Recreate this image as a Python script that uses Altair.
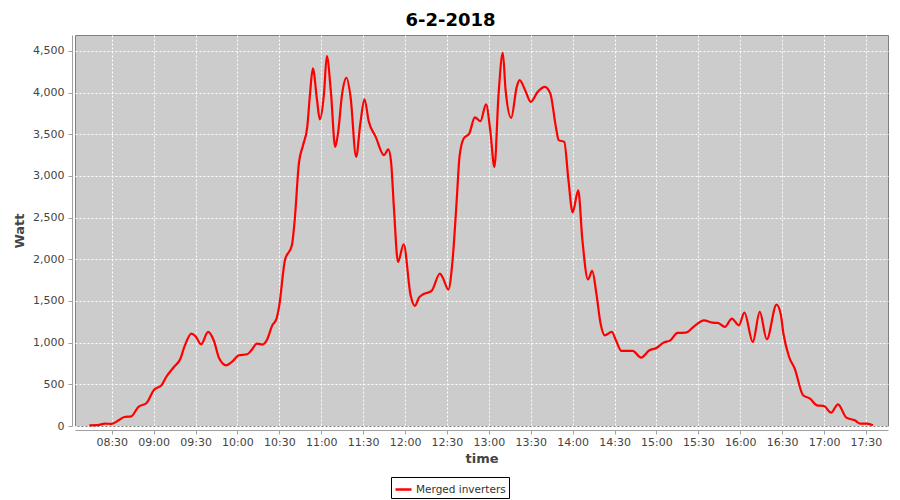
import altair as alt
import pandas as pd

# ---- data (time of day, Watt) ----
times = [
    "08:14", "08:20", "08:25", "08:30", "08:35", "08:39", "08:44", "08:49", "08:55",
    "09:00", "09:06", "09:09", "09:15", "09:19", "09:22", "09:27", "09:30", "09:34",
    "09:39", "09:43", "09:47", "09:52", "09:56", "10:01", "10:07", "10:10", "10:14",
    "10:18", "10:21", "10:25", "10:28", "10:30", "10:34", "10:39", "10:41", "10:44",
    "10:47", "10:50", "10:52", "10:54", "10:57", "10:59", "11:02", "11:04", "11:07",
    "11:10", "11:12", "11:15", "11:18", "11:21", "11:25", "11:28", "11:31", "11:34",
    "11:39", "11:45", "11:48", "11:50", "11:52", "11:55", "11:59", "12:04", "12:07",
    "12:10", "12:13", "12:19", "12:25", "12:27", "12:31", "12:34", "12:37", "12:39",
    "12:42", "12:46", "12:50", "12:54", "12:58", "13:01", "13:04", "13:07", "13:10",
    "13:12", "13:16", "13:20", "13:22", "13:26", "13:30", "13:35", "13:40", "13:44",
    "13:48", "13:50", "13:54", "13:57", "14:00", "14:04", "14:07", "14:11", "14:14",
    "14:17", "14:20", "14:23", "14:28", "14:31", "14:35", "14:43", "14:49", "14:55",
    "15:00", "15:05", "15:10", "15:15", "15:21", "15:27", "15:34", "15:40", "15:44",
    "15:49", "15:54", "15:59", "16:03", "16:09", "16:14", "16:19", "16:26", "16:29",
    "16:31", "16:35", "16:39", "16:45", "16:50", "16:55", "17:00", "17:05", "17:10",
    "17:16", "17:22", "17:26", "17:31", "17:35",
]
watts = [
    8, 10, 29, 25, 68, 108, 116, 228, 276,
    428, 497, 588, 716, 800, 948, 1109, 1076, 980,
    1128, 1028, 809, 728, 768, 848, 860, 908, 988,
    977, 1028, 1208, 1288, 1450, 1988, 2168, 2468, 3149,
    3368, 3588, 3989, 4289, 3908, 3677, 3989, 4436, 3989,
    3348, 3509, 3989, 4177, 3948, 3228, 3629, 3917, 3656,
    3468, 3248, 3317, 3168, 2628, 1968, 2180, 1568, 1440,
    1540, 1580, 1620, 1829, 1781, 1637, 1980, 2708, 3228,
    3449, 3509, 3701, 3656, 3857, 3548, 3108, 3989, 4476,
    4028, 3696, 4068, 4148, 4028, 3888, 4008, 4068, 3989,
    3588, 3429, 3408, 2948, 2561, 2828, 2228, 1757, 1860,
    1589, 1229, 1088, 1128, 1028, 900, 900, 820, 908,
    936, 1000, 1028, 1116, 1120, 1196, 1268, 1240, 1236,
    1188, 1288, 1208, 1360, 1008, 1368, 1040, 1456, 1340,
    1100, 828, 689, 368, 328, 248, 240, 160, 260,
    100, 68, 29, 29, 8,
]
series_name = "Merged inverters"
x_tick_labels = ["08:30", "09:00", "09:30", "10:00", "10:30", "11:00", "11:30",
                 "12:00", "12:30", "13:00", "13:30", "14:00", "14:30", "15:00",
                 "15:30", "16:00", "16:30", "17:00", "17:30"]
y_ticks = [0, 500, 1000, 1500, 2000, 2500, 3000, 3500, 4000, 4500]


def to_min(t):
    h, m = t.split(":")
    return int(h) * 60 + int(m)


df = pd.DataFrame({
    "minute": [to_min(t) for t in times],
    "watt": watts,
    "series": [series_name] * len(times),
})
x_ticks = [to_min(t) for t in x_tick_labels]
x_domain = [to_min("08:03") + 0.7, to_min("17:45") + 0.8]

label_expr = ("(floor(datum.value / 60) < 10 ? '0' : '') + floor(datum.value / 60) + ':' + "
              "(datum.value % 60 < 10 ? '0' : '') + (datum.value % 60)")

FONT = "DejaVu Sans"

chart = alt.Chart(df).mark_line(
    strokeWidth=2.2, interpolate="monotone"
).encode(
    x=alt.X(
        "minute:Q",
        scale=alt.Scale(domain=x_domain, nice=False, zero=False),
        axis=alt.Axis(
            title="time", values=x_ticks, labelExpr=label_expr,
            offset=4, tickSize=4, labelPadding=2, titlePadding=5,
            domainColor="#A0A0A0", tickColor="#A0A0A0",
            labelFont=FONT, labelFontSize=11, labelColor="#444444",
            titleFont=FONT, titleFontSize=13, titleFontWeight="bold", titleColor="#444444",
            gridColor="white", gridDash=[2, 2], gridWidth=1, labelFlush=False,
        ),
    ),
    y=alt.Y(
        "watt:Q",
        scale=alt.Scale(domain=[0, 4690], nice=False, zero=False),
        axis=alt.Axis(
            title="Watt", values=y_ticks, format=",.0f",
            offset=3, tickSize=4, labelPadding=4, titlePadding=6,
            domainColor="#A0A0A0", tickColor="#A0A0A0",
            labelFont=FONT, labelFontSize=11, labelColor="#444444",
            titleFont=FONT, titleFontSize=13, titleFontWeight="bold", titleColor="#444444",
            gridColor="white", gridDash=[2, 2], gridWidth=1,
        ),
    ),
    color=alt.Color(
        "series:N",
        scale=alt.Scale(range=["#FF0000"]),
        legend=alt.Legend(
            title=None, orient="none", legendX=316, legendY=442,
            strokeColor="black", fillColor="white", padding=3,
            symbolType="stroke", symbolSize=256, symbolStrokeWidth=2.5,
            labelFont=FONT, labelFontSize=10.5, labelColor="#333333", labelOffset=3,
        ),
    ),
).properties(
    width=813,
    height=391,
    title=alt.Title("6-2-2018", font=FONT, fontSize=18, fontWeight="bold",
                    color="black", anchor="middle", offset=5, dx=-31),
    autosize=alt.AutoSizeParams(type="none"),
    padding={"left": 67, "top": 27, "right": 4, "bottom": 73},
    background="white",
).configure_view(
    fill="#CCCCCC", stroke="#808080", strokeWidth=1
)

chart.save("out.html", embed_options={"renderer": "svg", "actions": False})
